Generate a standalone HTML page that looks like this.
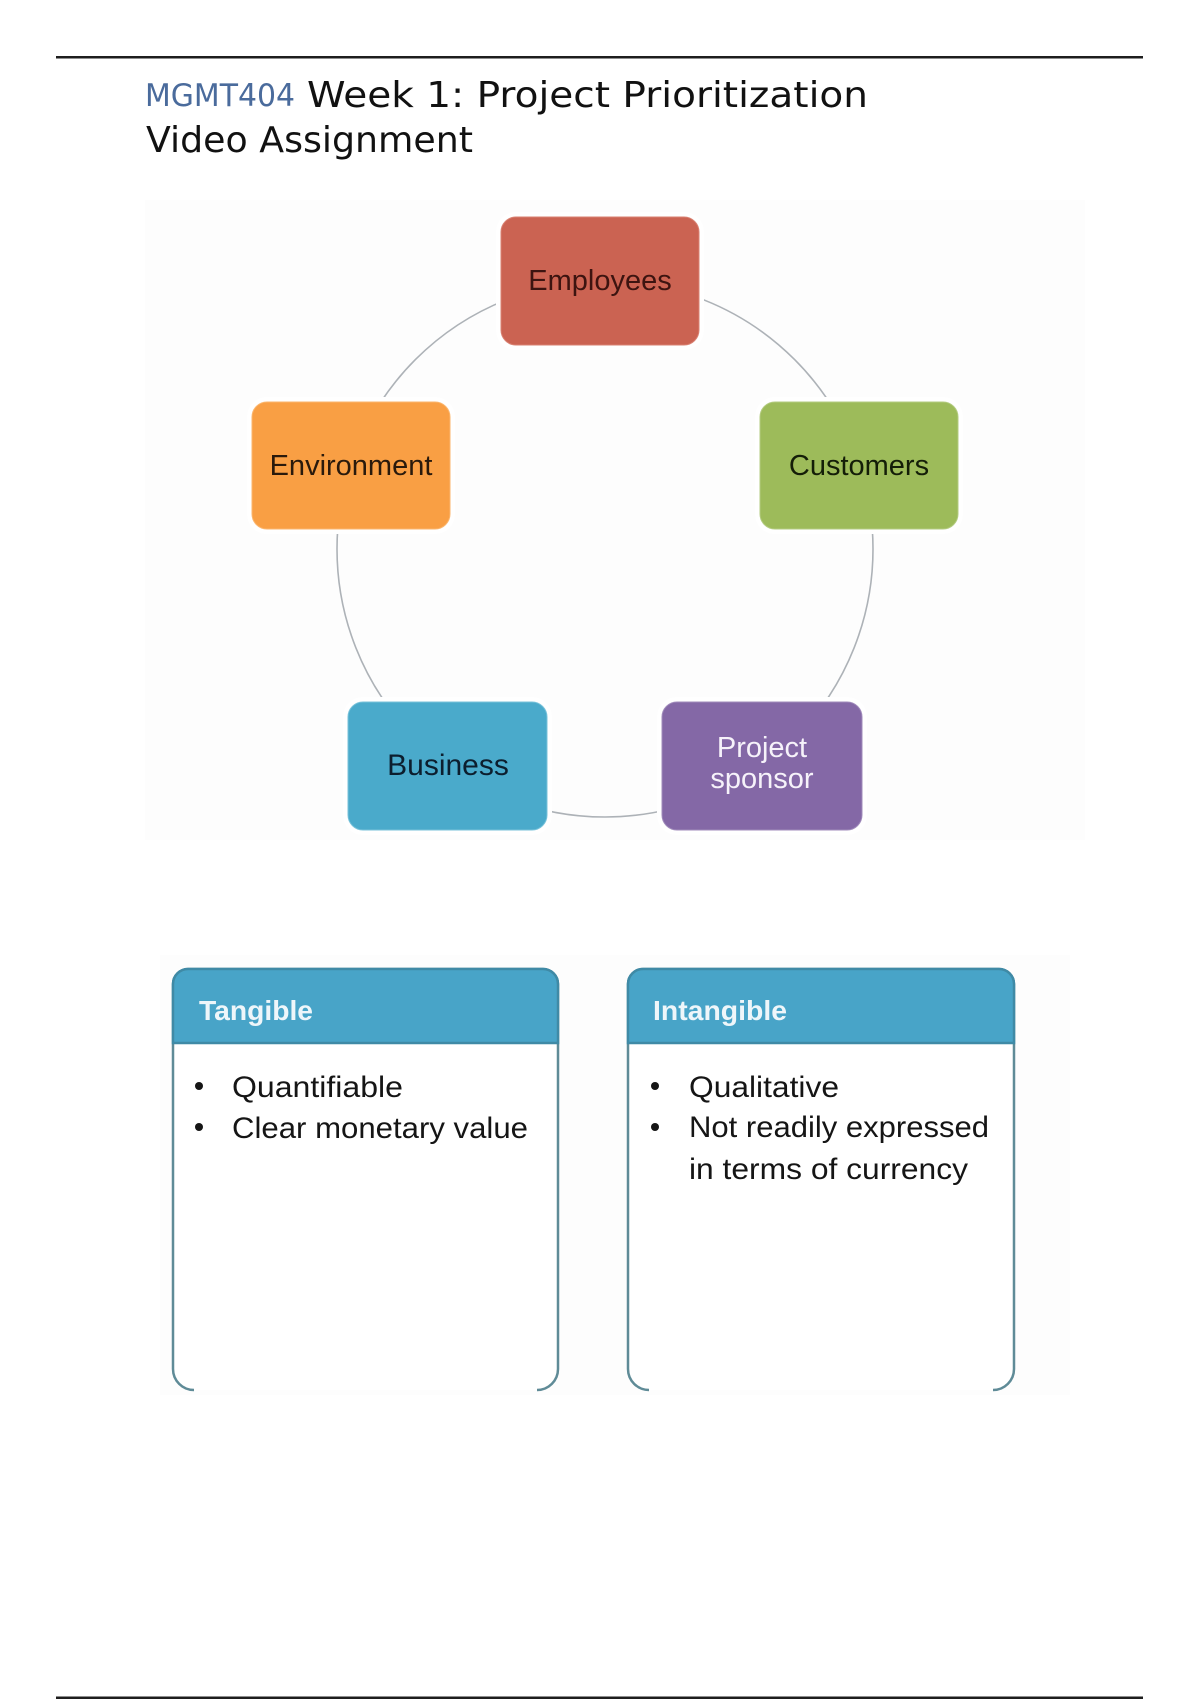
<!DOCTYPE html>
<html>
<head>
<meta charset="utf-8">
<style>
  html, body { margin: 0; padding: 0; background: #ffffff; }
  body { width: 1200px; height: 1700px; overflow: hidden; position: relative; }
  svg { display: block; }
</style>
</head>
<body>
<svg width="1200" height="1700" viewBox="0 0 1200 1700" xmlns="http://www.w3.org/2000/svg">
  <rect x="0" y="0" width="1200" height="1700" fill="#ffffff"/>
  <!-- faint backdrop areas -->
  <rect x="145" y="200" width="940" height="640" fill="#fdfdfd"/>
  <rect x="160" y="955" width="910" height="440" fill="#fdfdfd"/>

  <!-- top and bottom rules -->
  <rect x="56" y="56" width="1087" height="2.5" fill="#1e1e1e"/>
  <rect x="56" y="1696.5" width="1087" height="2.5" fill="#1e1e1e"/>

  <!-- title -->
  <text x="145" y="106" font-family="DejaVu Sans, Verdana, sans-serif" font-size="31" fill="#4a6b9c" textLength="150" lengthAdjust="spacingAndGlyphs">MGMT404</text>
  <text x="307" y="107" font-family="DejaVu Sans, Verdana, sans-serif" font-size="36" fill="#111111" textLength="561" lengthAdjust="spacingAndGlyphs">Week 1: Project Prioritization</text>
  <text x="146" y="152" font-family="DejaVu Sans, Verdana, sans-serif" font-size="36" fill="#111111" textLength="327" lengthAdjust="spacingAndGlyphs">Video Assignment</text>

  <!-- cycle circle -->
  <circle cx="605" cy="549" r="268" fill="none" stroke="#adb2b7" stroke-width="1.6"/>

  <!-- nodes with white gap outline -->
  <g stroke="#ffffff" stroke-width="10">
    <rect x="501" y="217" width="198" height="128" rx="15" ry="15" fill="#ffffff"/>
    <rect x="252" y="402" width="198" height="127" rx="15" ry="15" fill="#ffffff"/>
    <rect x="760" y="402" width="198" height="127" rx="15" ry="15" fill="#ffffff"/>
    <rect x="348" y="702" width="199" height="128" rx="15" ry="15" fill="#ffffff"/>
    <rect x="662" y="702" width="200" height="128" rx="15" ry="15" fill="#ffffff"/>
  </g>
  <rect x="501" y="217" width="198" height="128" rx="15" ry="15" fill="#cb6352" stroke="#d98172" stroke-width="1"/>
  <rect x="252" y="402" width="198" height="127" rx="15" ry="15" fill="#f99f44" stroke="#fbb66e" stroke-width="1"/>
  <rect x="760" y="402" width="198" height="127" rx="15" ry="15" fill="#9dbb5a" stroke="#b3cb80" stroke-width="1"/>
  <rect x="348" y="702" width="199" height="128" rx="15" ry="15" fill="#4aaacb" stroke="#78c2da" stroke-width="1"/>
  <rect x="662" y="702" width="200" height="128" rx="15" ry="15" fill="#8468a6" stroke="#a08bbb" stroke-width="1"/>

  <g font-family="Liberation Sans, Arial, sans-serif" font-size="29" text-anchor="middle">
    <text x="600" y="290" fill="#3d1410">Employees</text>
    <text x="351" y="475" fill="#2a1a0c">Environment</text>
    <text x="859" y="475" fill="#141e08">Customers</text>
    <text x="448" y="775" fill="#0c1e2e" font-size="30">Business</text>
    <text x="762" y="757" fill="#f6f2fa">Project</text>
    <text x="762" y="788" fill="#f6f2fa">sponsor</text>
  </g>

  <!-- Tangible box -->
  <path d="M194,1390 A21,21 0 0 1 173,1369 L173,984 A15,15 0 0 1 188,969 L543,969 A15,15 0 0 1 558,984 L558,1369 A21,21 0 0 1 537,1390"
        fill="#ffffff" stroke="#5f8b97" stroke-width="2.5"/>
  <path d="M173,1043 L173,984 A15,15 0 0 1 188,969 L543,969 A15,15 0 0 1 558,984 L558,1043 Z"
        fill="#48a4c8" stroke="#3f8aa6" stroke-width="2.5"/>
  <text x="199" y="1020" font-family="Liberation Sans, Arial, sans-serif" font-size="28" font-weight="bold" fill="#eef6fa" textLength="114" lengthAdjust="spacingAndGlyphs">Tangible</text>

  <!-- Intangible box -->
  <path d="M649,1390 A21,21 0 0 1 628,1369 L628,984 A15,15 0 0 1 643,969 L999,969 A15,15 0 0 1 1014,984 L1014,1369 A21,21 0 0 1 993,1390"
        fill="#ffffff" stroke="#5f8b97" stroke-width="2.5"/>
  <path d="M628,1043 L628,984 A15,15 0 0 1 643,969 L999,969 A15,15 0 0 1 1014,984 L1014,1043 Z"
        fill="#48a4c8" stroke="#3f8aa6" stroke-width="2.5"/>
  <text x="653" y="1020" font-family="Liberation Sans, Arial, sans-serif" font-size="28" font-weight="bold" fill="#eef6fa" textLength="134" lengthAdjust="spacingAndGlyphs">Intangible</text>

  <!-- bullets -->
  <g fill="#151515">
    <circle cx="199" cy="1086" r="4"/>
    <circle cx="199" cy="1127" r="4"/>
    <circle cx="655" cy="1086" r="4"/>
    <circle cx="655" cy="1127" r="4"/>
  </g>
  <g font-family="Liberation Sans, Arial, sans-serif" font-size="30" fill="#151515">
    <text x="232" y="1097" textLength="171" lengthAdjust="spacingAndGlyphs">Quantifiable</text>
    <text x="232" y="1138" textLength="296" lengthAdjust="spacingAndGlyphs">Clear monetary value</text>
    <text x="689" y="1097" textLength="150" lengthAdjust="spacingAndGlyphs">Qualitative</text>
    <text x="689" y="1137" textLength="300" lengthAdjust="spacingAndGlyphs">Not readily expressed</text>
    <text x="689" y="1179" textLength="279" lengthAdjust="spacingAndGlyphs">in terms of currency</text>
  </g>
</svg>
</body>
</html>
